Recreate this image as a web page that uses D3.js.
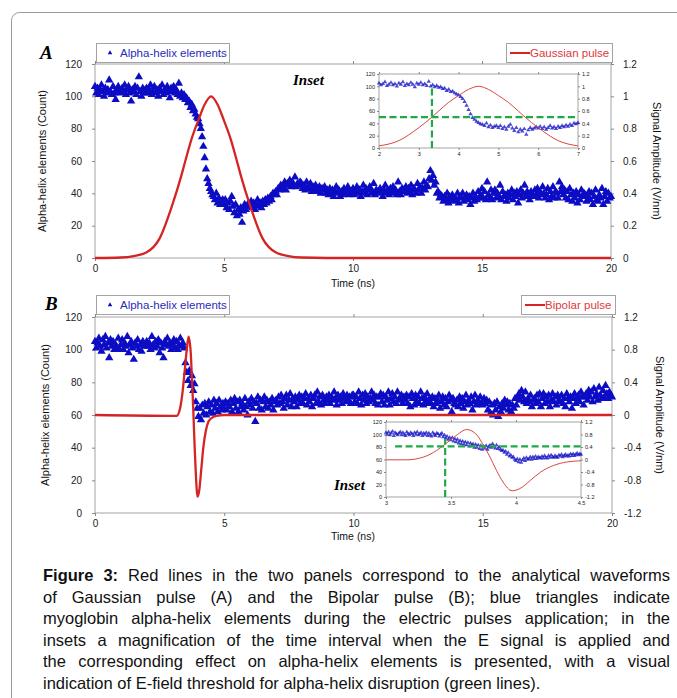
<!DOCTYPE html>
<html>
<head>
<meta charset="utf-8">
<script src="https://cdn.jsdelivr.net/npm/d3@7"></script>
<style>
  body { margin: 0; background: #fff; }
  svg { display: block; font-family: "Liberation Sans", Arial, sans-serif; }
</style>
</head>
<body>
<svg id="fig" width="677" height="698"></svg>
<script>
// ---- data ----
const timeStep = 0.05;   // ns between samples in the main panels

// panel A, alpha-helix count, t = 0 .. 20 ns
const helixA = [
  106,102,105,101,104,107,103,100,105,102,104,110,103,101,106,102,98,104,106,103,
  102,105,103,107,101,104,106,102,97,104,103,106,101,105,112,103,100,105,102,104,
  105,102,104,107,101,103,106,102,104,100,105,103,107,101,104,102,106,103,99,105,
  103,106,102,104,101,108,100,102,99,101,98,99,96,97,93,95,91,92,89,87,
  86,83,80,75,69,62,55,49,46,43,41,39,38,36,40,34,37,33,35,36,
  33,36,31,34,30,35,38,32,28,33,26,30,27,31,22,29,33,30,32,34,
  32,35,31,34,30,33,36,32,34,31,35,33,36,34,37,35,38,36,40,39,
  41,39,43,42,45,43,44,47,42,46,45,48,44,47,45,50,44,46,45,47,
  46,43,45,42,47,44,43,46,41,44,42,45,43,41,44,40,43,42,44,40,
  42,39,43,40,42,38,41,44,40,42,38,41,39,43,40,42,44,39,41,40,
  43,39,41,44,40,42,38,41,45,40,43,39,42,44,40,41,46,39,42,41,
  40,43,41,38,42,45,40,42,39,43,41,44,40,42,39,47,41,39,43,42,
  41,44,40,43,41,45,39,43,42,40,46,42,44,40,43,47,42,45,44,49,
  54,48,51,45,47,40,41,37,39,38,35,38,36,40,34,38,36,39,35,37,
  36,40,34,38,37,40,35,37,39,36,38,33,37,40,35,38,36,41,37,39,
  43,37,41,36,47,39,37,42,36,40,42,37,40,38,45,36,41,38,39,35,
  40,37,39,42,36,40,38,41,34,39,42,37,40,45,38,41,38,36,41,39,
  38,42,39,43,37,41,39,44,40,37,39,43,36,41,38,44,37,41,40,37,
  47,41,44,39,42,37,41,36,43,39,35,40,37,41,34,39,36,42,38,40,
  39,35,38,41,36,40,33,38,42,36,35,39,37,43,33,38,41,35,40,37,
  38
];

// panel B, alpha-helix count, t = 0 .. 20 ns
const helixB = [
  105,101,104,107,102,99,106,103,108,101,104,95,106,102,105,100,103,101,107,100,
  103,106,100,104,102,108,98,103,105,101,94,104,102,106,100,103,99,105,102,103,
  105,102,104,100,108,103,101,105,102,106,98,104,101,95,105,103,107,102,104,100,
  103,106,101,105,100,103,107,102,104,101,92,86,81,87,78,84,75,79,68,64,
  59,64,57,66,61,67,60,65,68,62,66,61,69,64,67,62,69,65,63,67,
  64,68,63,67,65,69,62,67,70,64,68,62,69,65,67,63,70,65,60,68,
  66,70,64,68,56,67,71,64,69,63,68,71,65,69,64,68,66,70,63,68,
  69,66,71,67,72,68,64,70,72,66,69,73,65,70,68,71,65,69,72,67,
  71,67,70,73,66,70,68,72,65,70,72,67,74,68,71,66,72,69,67,71,
  69,72,67,71,69,74,70,66,72,69,71,67,73,70,68,72,69,71,67,72,
  72,68,71,67,74,70,66,72,69,73,67,71,68,70,74,69,72,67,71,66,
  71,73,68,72,66,71,69,74,66,70,73,68,71,67,74,69,70,72,67,71,
  69,72,67,71,65,73,70,66,72,68,71,67,74,70,66,71,68,73,67,70,
  67,71,65,70,67,69,72,64,68,71,66,70,65,68,72,69,62,70,67,66,
  69,65,71,67,70,64,68,72,66,69,67,71,63,68,72,66,69,67,71,67,
  66,70,67,69,63,68,61,66,60,67,63,68,59,65,62,67,64,69,66,68,
  63,67,62,66,64,70,66,71,73,69,75,71,68,74,67,70,68,72,65,69,
  70,67,72,68,73,65,70,73,67,71,68,72,65,69,73,68,71,66,72,69,
  68,72,67,70,65,73,70,68,71,64,70,73,67,70,72,68,74,71,66,71,
  73,69,75,71,74,68,76,71,73,69,77,72,70,75,71,78,73,70,74,72,
  71
];

// inset B, finer sampling, t = 3.00 .. 4.50 ns
const insetBStart = 3, insetBStep = 0.01;
const helixInsetB = [
  103,100,104,99,102,105,98,103,101,99,
  102,104,99,103,100,98,104,101,99,103,
  101,98,103,100,104,99,101,103,98,102,
  100,103,98,102,99,97,103,100,98,102,
  101,97,100,102,96,99,94,97,92,95,
  91,95,89,93,88,92,86,90,85,89,
  84,88,83,87,81,86,82,85,79,84,
  79,83,77,82,76,81,78,82,76,80,
  83,79,85,81,78,83,77,80,76,74,
  75,71,73,68,71,65,67,63,64,60,
  58,61,56,60,55,59,62,58,63,60,
  61,64,60,64,61,65,61,64,63,62,
  65,62,66,63,62,66,63,67,64,63,
  66,64,63,67,65,68,64,66,68,65,
  67,65,69,66,69,66,68,70,67,69,
  68
];

// Gaussian pulse (V/nm)
const gaussT = [0, 1, 1.5, 2, 2.5, 3, 3.33, 3.5, 3.75, 4, 4.25, 4.5, 4.75, 5, 5.25, 5.5, 5.67, 6, 6.5, 7, 7.5, 8, 9, 20];
const gaussV = [0, 0.003, 0.012, 0.035, 0.12, 0.33, 0.5, 0.6, 0.74, 0.85, 0.95, 1.0, 0.95, 0.85, 0.74, 0.6, 0.5, 0.33, 0.12, 0.035, 0.012, 0.003, 0, 0];

// Bipolar pulse (V/nm)
const bipolarT = [0, 3.0, 3.16, 3.29, 3.39, 3.47, 3.55, 3.62, 3.70, 3.75, 3.80, 3.85, 3.90, 3.97, 4.03, 4.11, 4.19, 4.29, 4.39, 4.5, 4.7, 5, 20];
const bipolarV = [0, -0.01, -0.01, 0.08, 0.29, 0.54, 0.8, 0.96, 0.78, 0.45, 0.08, -0.35, -0.72, -1.0, -0.93, -0.67, -0.4, -0.19, -0.08, -0.04, -0.01, 0, 0];

// thresholds (green lines)
const thresholdA = { time: 3.33, amp: 0.5, count: 97, from: 2 };
const thresholdB = { time: 3.455, amp: 0.42, count: 93, from: 3.07 };

const xTicks = [0, 5, 10, 15, 20];
const countTicks = [0, 20, 40, 60, 80, 100, 120];
const ampTicksA = [0, 0.2, 0.4, 0.6, 0.8, 1, 1.2];
const ampTicksB = [-1.2, -0.8, -0.4, 0, 0.4, 0.8, 1.2];
const insetATicks = [2, 3, 4, 5, 6, 7];
const insetBTicks = [3, 3.5, 4, 4.5];

const captionLines = [
  "Figure 3: Red lines in the two panels correspond to the analytical waveforms",
  "of Gaussian pulse (A) and the Bipolar pulse (B); blue triangles indicate",
  "myoglobin alpha-helix elements during the electric pulses application; in the",
  "insets a magnification of the time interval when the E signal is applied and",
  "the corresponding effect on alpha-helix elements is presented, with a visual",
  "indication of E-field threshold for alpha-helix disruption (green lines)."
];

// ---- drawing ----
const BLUE = "#0c0cc4", RED = "#d42424", GREEN = "#1faa48", FRAME = "#a3a3a3";
const svg = d3.select("#fig");

svg.append("rect")
  .attr("x", 11.5).attr("y", 12.5).attr("width", 720).attr("height", 740)
  .attr("rx", 8).attr("fill", "none").attr("stroke", "#9a9a9a");

const series = (vals, start, step) => vals.map((v, i) => ({ t: start + i * step, v }));
const pairs = (ts, vs) => ts.map((t, i) => ({ t, v: vs[i] }));

function panel(o) {
  const g = svg.append("g");
  const x = d3.scaleLinear().domain(o.xDomain).range([o.left, o.right]);
  const yC = d3.scaleLinear().domain([0, 120]).range([o.bottom, o.top]);
  const yA = d3.scaleLinear().domain(o.ampDomain).range([o.bottom, o.top]);

  g.append("rect")
    .attr("x", o.left).attr("y", o.top)
    .attr("width", o.right - o.left).attr("height", o.bottom - o.top)
    .attr("fill", "#fff").attr("stroke", FRAME);

  const styleAxis = (a, size) => {
    a.select(".domain").remove();
    a.selectAll("line").attr("stroke", "#888");
    a.selectAll("text").attr("fill", "#222").style("font-size", size + "px");
  };
  const fmt = d => String(d);
  const ts = o.small ? 2 : 3;
  const fs = o.small ? 5.5 : 10;

  g.append("g").attr("transform", `translate(0,${o.bottom})`)
    .call(d3.axisBottom(x).tickValues(o.xTicks).tickFormat(fmt).tickSize(ts).tickPadding(o.small ? 2 : 4))
    .call(a => styleAxis(a, fs));
  g.append("g").attr("transform", `translate(0,${o.top})`)
    .call(d3.axisTop(x).tickValues(o.xTicks).tickFormat("").tickSize(ts))
    .call(a => styleAxis(a, fs));
  g.append("g").attr("transform", `translate(${o.left},0)`)
    .call(d3.axisLeft(yC).tickValues(countTicks).tickFormat(fmt).tickSize(ts).tickPadding(o.small ? 2 : 10))
    .call(a => styleAxis(a, fs));
  g.append("g").attr("transform", `translate(${o.right},0)`)
    .call(d3.axisRight(yA).tickValues(o.ampTicks).tickFormat(fmt).tickSize(ts).tickPadding(o.small ? 2 : 9))
    .call(a => styleAxis(a, fs));

  const inX = d => d.t >= o.xDomain[0] - 1e-9 && d.t <= o.xDomain[1] + 1e-9;

  // alpha-helix triangles
  const tri = d3.symbol().type(d3.symbolTriangle).size(o.small ? 8 : 30)();
  g.append("g").selectAll("path")
    .data(o.helix.filter(inX))
    .join("path")
    .attr("d", tri)
    .attr("transform", d => `translate(${x(d.t)},${yC(d.v)})`)
    .attr("fill", BLUE)
    .attr("fill-opacity", o.small ? 0.75 : 1);

  if (o.clip) {
    svg.append("clipPath").attr("id", o.clip).append("rect")
      .attr("x", o.left).attr("y", o.top - 2)
      .attr("width", o.right - o.left).attr("height", o.bottom - o.top + 4);
  }

  // pulse
  const line = d3.line().x(d => x(d.t)).y(d => yA(d.v)).curve(d3.curveMonotoneX);
  g.append("path")
    .datum(o.pulse)
    .attr("d", line)
    .attr("fill", "none")
    .attr("stroke", o.small ? "#d8473f" : RED)
    .attr("stroke-width", o.small ? 1 : 2.3)
    .attr("clip-path", o.clip ? `url(#${o.clip})` : null);

  if (o.threshold) {
    const th = o.threshold;
    g.append("line")
      .attr("x1", x(th.from)).attr("x2", x(o.xDomain[1]))
      .attr("y1", yA(th.amp)).attr("y2", yA(th.amp))
      .attr("stroke", GREEN).attr("stroke-width", 2.2).attr("stroke-dasharray", "7,3.5");
    g.append("line")
      .attr("x1", x(th.time)).attr("x2", x(th.time))
      .attr("y1", yC(0)).attr("y2", yC(th.count))
      .attr("stroke", GREEN).attr("stroke-width", 2.2).attr("stroke-dasharray", "7,3.5");
  }
  return g;
}

function titles(o) {
  const cy = (o.top + o.bottom) / 2;
  svg.append("text")
    .attr("transform", `translate(${o.leftTitleX},${cy}) rotate(-90)`)
    .attr("text-anchor", "middle").attr("dy", "0.35em")
    .style("font-size", "11px").attr("fill", "#111")
    .text("Alpha-helix elements (Count)");
  svg.append("text")
    .attr("transform", `translate(${o.rightTitleX},${cy}) rotate(90)`)
    .attr("text-anchor", "middle").attr("dy", "0.35em")
    .style("font-size", "11px").attr("fill", "#111")
    .text("Signal Amplitude (V/nm)");
  svg.append("text")
    .attr("x", 353).attr("y", o.timeY)
    .attr("text-anchor", "middle")
    .style("font-size", "10.5px").attr("fill", "#111")
    .text("Time (ns)");
  svg.append("text")
    .attr("x", o.letterX).attr("y", o.letterY)
    .style("font-family", "'Liberation Serif', 'DejaVu Serif', serif")
    .style("font-weight", "bold").style("font-style", "italic")
    .style("font-size", "19px").attr("fill", "#000")
    .text(o.letter);
  svg.append("text")
    .attr("x", o.insetX).attr("y", o.insetY)
    .style("font-family", "'Liberation Serif', 'DejaVu Serif', serif")
    .style("font-weight", "bold").style("font-style", "italic")
    .style("font-size", "15px").attr("fill", "#000")
    .text("Inset");

  // legends
  const lg = svg.append("g");
  lg.append("rect").attr("x", 96.5).attr("y", o.legendY + 0.5).attr("width", 133).attr("height", 19)
    .attr("fill", "#fff").attr("stroke", FRAME);
  lg.append("path").attr("d", d3.symbol().type(d3.symbolTriangle).size(9)())
    .attr("transform", `translate(110,${o.legendY + 10})`).attr("fill", BLUE);
  lg.append("text").attr("x", 120).attr("y", o.legendY + 14)
    .style("font-size", "11.5px").attr("fill", "#2b2bb8").text("Alpha-helix elements");

  lg.append("rect").attr("x", o.pulseLegendX + 0.5).attr("y", o.legendY + 0.5)
    .attr("width", o.pulseLegendW).attr("height", 19)
    .attr("fill", "#fff").attr("stroke", FRAME);
  lg.append("line")
    .attr("x1", o.pulseLegendX + 4).attr("x2", o.pulseLegendX + 24)
    .attr("y1", o.legendY + 10).attr("y2", o.legendY + 10)
    .attr("stroke", RED).attr("stroke-width", 2);
  lg.append("text").attr("x", o.pulseLegendX + 24).attr("y", o.legendY + 14)
    .style("font-size", "11.5px").attr("fill", "#e0383c").text(o.pulseName);
}

// Panel A
panel({
  left: 95, right: 611, top: 64, bottom: 258,
  xDomain: [0, 20], ampDomain: [0, 1.2], xTicks, ampTicks: ampTicksA,
  helix: series(helixA, 0, timeStep), pulse: pairs(gaussT, gaussV)
});
titles({
  top: 64, bottom: 258, leftTitleX: 42, rightTitleX: 657, timeY: 287,
  letter: "A", letterX: 40, letterY: 59, insetX: 293, insetY: 85,
  legendY: 43, pulseLegendX: 506, pulseLegendW: 106, pulseName: "Gaussian pulse"
});
panel({
  left: 379, right: 578, top: 74, bottom: 148, small: true, clip: "clipA",
  xDomain: [2, 7], ampDomain: [0, 1.2], xTicks: insetATicks, ampTicks: ampTicksA,
  helix: series(helixA, 0, timeStep), pulse: pairs(gaussT, gaussV), threshold: thresholdA
});

// Panel B
panel({
  left: 95, right: 612, top: 317, bottom: 513,
  xDomain: [0, 20], ampDomain: [-1.2, 1.2], xTicks, ampTicks: ampTicksB,
  helix: series(helixB, 0, timeStep), pulse: pairs(bipolarT, bipolarV)
});
titles({
  top: 317, bottom: 513, leftTitleX: 45, rightTitleX: 660, timeY: 540,
  letter: "B", letterX: 45, letterY: 310, insetX: 334, insetY: 490,
  legendY: 295, pulseLegendX: 521, pulseLegendW: 94, pulseName: "Bipolar pulse"
});
panel({
  left: 386, right: 581, top: 422, bottom: 497, small: true, clip: "clipB",
  xDomain: [3, 4.5], ampDomain: [-1.2, 1.2], xTicks: insetBTicks, ampTicks: ampTicksB,
  helix: series(helixInsetB, insetBStart, insetBStep), pulse: pairs(bipolarT, bipolarV), threshold: thresholdB
});

// caption, justified
const capLeft = 43, capRight = 670, capTop = 581, capLead = 21.6;
const cap = svg.append("g").style("font-size", "16.5px").attr("fill", "#111");
captionLines.forEach((ln, li) => {
  const words = ln.split(" ");
  const y = capTop + li * capLead;
  const nodes = words.map((w, wi) => cap.append("text")
    .attr("y", y)
    .style("font-weight", li === 0 && wi < 2 ? "bold" : "normal")
    .text(w));
  const widths = nodes.map(n => n.node().getComputedTextLength());
  const total = d3.sum(widths);
  const last = li === captionLines.length - 1;
  const gap = last ? 4.6 : (capRight - capLeft - total) / (words.length - 1);
  let cx = capLeft;
  nodes.forEach((n, i) => { n.attr("x", cx); cx += widths[i] + gap; });
});
</script>
</body>
</html>
